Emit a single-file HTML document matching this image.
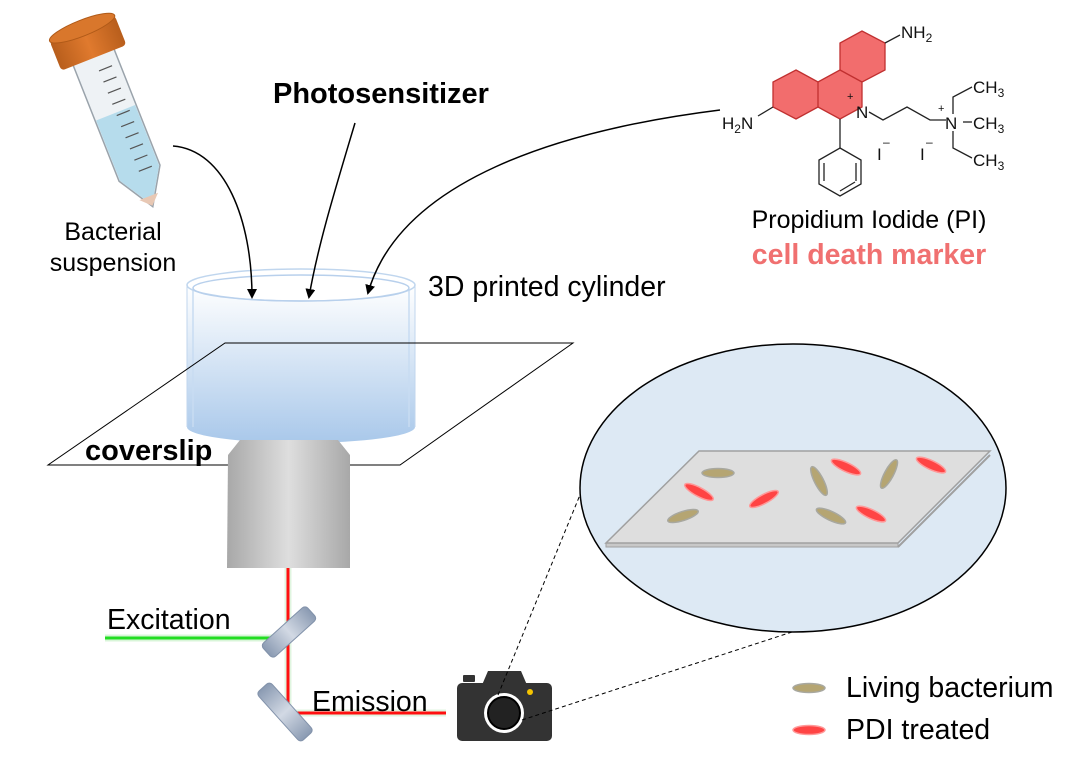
<!DOCTYPE html>
<html><head><meta charset="utf-8"><style>
html,body{margin:0;padding:0;background:#fff;}
svg{display:block;font-family:"Liberation Sans",Arial,sans-serif;}
</style></head><body>
<svg width="1076" height="773" viewBox="0 0 1076 773" xmlns="http://www.w3.org/2000/svg">
<defs>
<linearGradient id="cyl" x1="0" y1="0" x2="0" y2="1">
<stop offset="0" stop-color="#ffffff"/><stop offset="1" stop-color="#a9c8ea"/></linearGradient>
<linearGradient id="obj" x1="0" y1="0" x2="1" y2="0">
<stop offset="0" stop-color="#a8a8a8"/><stop offset="0.5" stop-color="#dedede"/><stop offset="1" stop-color="#a8a8a8"/></linearGradient>
<linearGradient id="mir" x1="0" y1="0" x2="1" y2="0">
<stop offset="0" stop-color="#8a9ab2"/><stop offset="0.5" stop-color="#d2d9e4"/><stop offset="1" stop-color="#8a9ab2"/></linearGradient>
<linearGradient id="cap" x1="0" y1="0" x2="1" y2="0">
<stop offset="0" stop-color="#b85e1c"/><stop offset="0.5" stop-color="#e07a2e"/><stop offset="1" stop-color="#b85e1c"/></linearGradient>
<marker id="ah" markerWidth="10" markerHeight="10" refX="8" refY="5" orient="auto" markerUnits="userSpaceOnUse">
<path d="M0,0 L10,5 L0,10 Z" fill="#000"/></marker>
</defs>

<!-- tube -->
<g transform="translate(88,43) rotate(-21.6)">
<path d="M-22,14 L-22,140 L0,176 L22,140 L22,14 Z" fill="#eef2f5" stroke="#9aa3ab" stroke-width="1.5"/>
<path d="M-21,75 L-21,140 L0,174 L21,140 L21,75 Z" fill="#b6dcec"/>
<path d="M-10,165 L0,175 L10,165 Z" fill="#e8c8b4"/>
<g stroke="#555" stroke-width="1.2">
<line x1="0" y1="30" x2="14" y2="30"/><line x1="0" y1="42" x2="14" y2="42"/><line x1="0" y1="54" x2="14" y2="54"/><line x1="0" y1="66" x2="14" y2="66"/><line x1="0" y1="78" x2="14" y2="78"/><line x1="0" y1="90" x2="14" y2="90"/><line x1="0" y1="102" x2="14" y2="102"/><line x1="0" y1="114" x2="14" y2="114"/><line x1="0" y1="126" x2="14" y2="126"/><line x1="0" y1="138" x2="14" y2="138"/></g>
<rect x="-35" y="-16" width="70" height="32" rx="4" fill="url(#cap)"/>
<ellipse cx="0" cy="-16" rx="35" ry="8" fill="#d9772c" stroke="#b05a18"/>
</g>
<text x="113" y="240" font-size="25" text-anchor="middle">Bacterial</text>
<text x="113" y="271" font-size="25" text-anchor="middle">suspension</text>

<!-- cylinder -->
<path d="M187,285 L187,427 A114,16 0 0 0 415,427 L415,285 Z" fill="url(#cyl)"/>
<line x1="193" y1="290" x2="193" y2="427" stroke="#c8dcf2" stroke-width="1.5"/>
<line x1="409" y1="290" x2="409" y2="427" stroke="#c8dcf2" stroke-width="1.5"/>
<line x1="187" y1="285" x2="187" y2="427" stroke="#c0d6ee"/>
<line x1="415" y1="285" x2="415" y2="427" stroke="#c0d6ee"/>
<ellipse cx="301" cy="285" rx="114" ry="16" fill="#fff" stroke="#c0d6ee" stroke-width="1.5"/>
<ellipse cx="301" cy="288" rx="108" ry="13" fill="none" stroke="#b8d0ec" stroke-width="1.5"/>
<text x="428" y="296" font-size="28.5">3D printed cylinder</text>

<!-- coverslip -->
<polygon points="48,465 400,465 573,343 225,343" fill="none" stroke="#000" stroke-width="1"/>
<text x="85" y="460" font-size="29" font-weight="bold">coverslip</text>

<!-- objective -->
<path d="M228,455 L240,440 L338,440 L350,455 L350,568 L227,568 Z" fill="url(#obj)"/>

<!-- beams -->
<line x1="105" y1="638" x2="272" y2="638" stroke="#d8f5d8" stroke-width="7"/>
<line x1="105" y1="638" x2="272" y2="638" stroke="#22dd22" stroke-width="3"/>
<line x1="288" y1="568" x2="288" y2="713" stroke="#e0f5e0" stroke-width="7"/>
<line x1="288" y1="568" x2="288" y2="713" stroke="#ff1010" stroke-width="3"/>
<line x1="288" y1="713" x2="446" y2="713" stroke="#e0f5e0" stroke-width="7"/>
<line x1="288" y1="713" x2="446" y2="713" stroke="#ff1010" stroke-width="3"/>
<rect x="-30" y="-9" width="60" height="18" rx="4" fill="url(#mir)" stroke="#8292aa" transform="translate(289,632) rotate(-42)"/>
<rect x="-33" y="-9" width="66" height="18" rx="4" fill="url(#mir)" stroke="#8292aa" transform="translate(285,712) rotate(48)"/>
<text x="107" y="629" font-size="28.5">Excitation</text>
<text x="312" y="711" font-size="28.5">Emission</text>

<!-- camera -->
<rect x="463" y="675" width="12" height="7" rx="1" fill="#333"/>
<path d="M482,685 L488,671 L521,671 L527,685 Z" fill="#333"/>
<rect x="457" y="683" width="95" height="58" rx="5" fill="#333"/>
<circle cx="504" cy="713" r="20" fill="#fff"/>
<circle cx="504" cy="713" r="16" fill="#222" stroke="#000" stroke-width="2"/>
<circle cx="530" cy="692" r="3" fill="#f5c400"/>
<line x1="498" y1="695" x2="582" y2="490" stroke="#000" stroke-width="1" stroke-dasharray="4,3"/>
<line x1="522" y1="720" x2="792" y2="632" stroke="#000" stroke-width="1" stroke-dasharray="4,3"/>

<!-- zoom ellipse -->
<ellipse cx="793" cy="488" rx="213" ry="144" fill="#dde9f4" stroke="#000" stroke-width="1.5"/>
<polygon points="606,547 898,547 898,543 606,543" fill="#c8c8c8" stroke="#a0a0a0"/>
<polygon points="699,451 990,451 898,543 606,543" fill="#dedede" stroke="#a0a0a0" stroke-width="1.5"/>
<line x1="898" y1="547" x2="990" y2="455" stroke="#a0a0a0" stroke-width="2"/>
<g stroke-width="1.5">
<ellipse cx="718" cy="473" rx="16" ry="4.5" fill="#b5a572" stroke="#a8a8a0"/>
<ellipse cx="699" cy="492" rx="16" ry="4.5" fill="#f44" stroke="#f99" transform="rotate(28 699 492)"/>
<ellipse cx="683" cy="516" rx="16" ry="4.5" fill="#b5a572" stroke="#a8a8a0" transform="rotate(-18 683 516)"/>
<ellipse cx="764" cy="499" rx="16" ry="4.5" fill="#f44" stroke="#f99" transform="rotate(-28 764 499)"/>
<ellipse cx="819" cy="481" rx="16" ry="4.5" fill="#b5a572" stroke="#a8a8a0" transform="rotate(63 819 481)"/>
<ellipse cx="846" cy="467" rx="16" ry="4.5" fill="#f44" stroke="#f99" transform="rotate(25 846 467)"/>
<ellipse cx="889" cy="474" rx="16" ry="4.5" fill="#b5a572" stroke="#a8a8a0" transform="rotate(-62 889 474)"/>
<ellipse cx="931" cy="465" rx="16" ry="4.5" fill="#f44" stroke="#f99" transform="rotate(25 931 465)"/>
<ellipse cx="831" cy="516" rx="16" ry="4.5" fill="#b5a572" stroke="#a8a8a0" transform="rotate(25 831 516)"/>
<ellipse cx="871" cy="514" rx="16" ry="4.5" fill="#f44" stroke="#f99" transform="rotate(25 871 514)"/>
<ellipse cx="809" cy="688" rx="16" ry="4.5" fill="#b5a572" stroke="#a8a8a0"/>
<ellipse cx="809" cy="730" rx="16" ry="4.5" fill="#f44" stroke="#f99"/>
</g>
<text x="846" y="697" font-size="28.5">Living bacterium</text>
<text x="846" y="739" font-size="28.5">PDI treated</text>

<!-- molecule -->
<g stroke="#222" stroke-width="1.3" fill="none">
<path d="M796,70 L818,82 L840,70 L840,43 L862,31 L885,43 L885,70 L862,82 L862,107 L840,119 L818,107 L796,119 L773,107 L773,82 Z" fill="#f26d6d" stroke="#c03030"/>
<line x1="818" y1="82" x2="818" y2="107" stroke="#c03030"/>
<line x1="840" y1="70" x2="862" y2="82" stroke="#c03030"/>
<line x1="773" y1="107" x2="758" y2="116"/>
<line x1="885" y1="43" x2="900" y2="35"/>
<line x1="840" y1="119" x2="840" y2="148"/>
<polygon points="840,148 861,160 861,184 840,196 819,184 819,160"/>
<line x1="824" y1="163" x2="824" y2="181"/><line x1="856" y1="163" x2="856" y2="181"/><line x1="840" y1="191" x2="855" y2="182"/>
<polyline points="869,112 883,120 907,107 930,120 946,120"/>
<polyline points="953,114 953,97 972,87"/>
<line x1="963" y1="122" x2="972" y2="122"/>
<polyline points="953,131 953,148 972,158"/>
</g>
<g font-size="17" fill="#111">
<text x="901" y="38">NH<tspan font-size="12" dy="4">2</tspan></text>
<text x="722" y="129">H<tspan font-size="12" dy="4">2</tspan><tspan dy="-4">N</tspan></text>
<text x="856" y="118">N</text><text x="847" y="100" font-size="11">+</text>
<text x="945" y="129">N</text><text x="938" y="112" font-size="11">+</text>
<text x="973" y="93">CH<tspan font-size="12" dy="4">3</tspan></text>
<text x="973" y="129">CH<tspan font-size="12" dy="4">3</tspan></text>
<text x="973" y="166">CH<tspan font-size="12" dy="4">3</tspan></text>
<text x="877" y="160">I</text><text x="883" y="146" font-size="12">–</text>
<text x="920" y="160">I</text><text x="926" y="146" font-size="12">–</text>
</g>
<text x="869" y="228" font-size="25" text-anchor="middle">Propidium Iodide (PI)</text>
<text x="869" y="264" font-size="28.5" font-weight="bold" fill="#f07070" text-anchor="middle">cell death marker</text>

<!-- labels & arrows -->
<text x="273" y="103" font-size="29" font-weight="bold">Photosensitizer</text>
<g fill="none" stroke="#000" stroke-width="1.5" marker-end="url(#ah)">
<path d="M173,146 C225,150 252,220 252,297"/>
<path d="M355,123 C335,190 318,245 309,297"/>
<path d="M720,110 C560,130 400,180 368,293"/>
</g>
</svg>
</body></html>
